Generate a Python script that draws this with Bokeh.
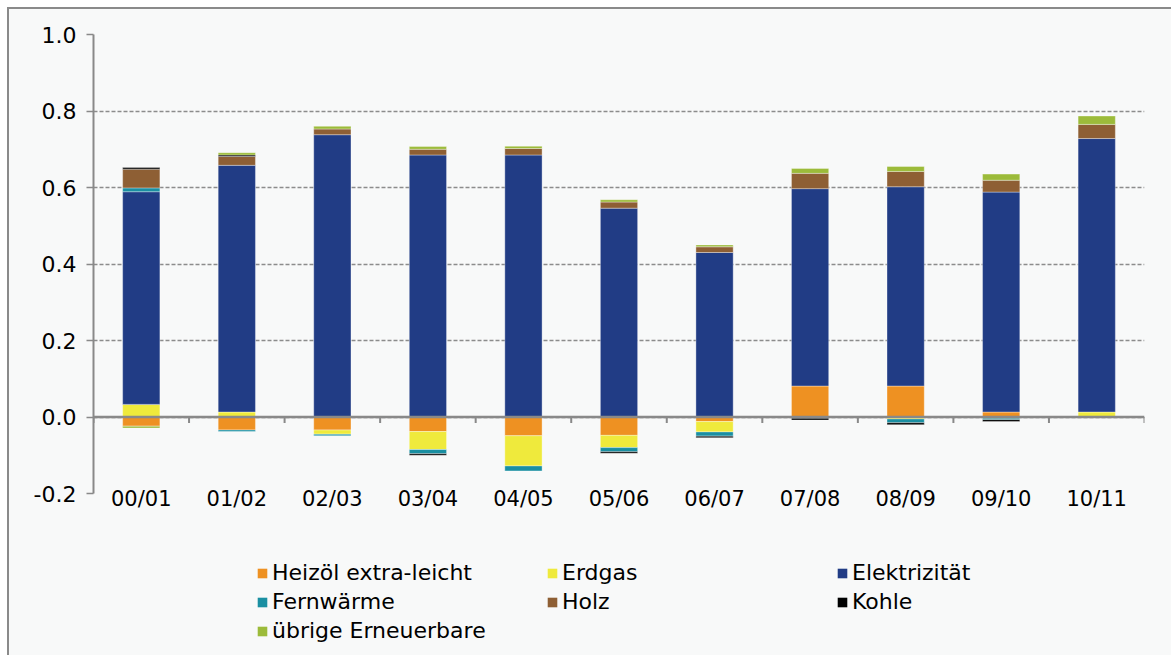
import numpy as np
from bokeh.plotting import figure
from bokeh.layouts import column
from bokeh.models import (ColumnDataSource, FactorRange, Range1d, Span, Legend,
                          LegendItem, FixedTicker, NumeralTickFormatter)
from bokeh.embed import file_html
from bokeh.resources import INLINE

# Heating year periods
periods = ["00/01", "01/02", "02/03", "03/04", "04/05", "05/06",
           "06/07", "07/08", "08/09", "09/10", "10/11"]

# Contributions per energy carrier
heizoel = [-0.024, -0.034, -0.034, -0.038, -0.049, -0.048, -0.012, 0.081, 0.081, 0.013, 0.0]
erdgas = [0.033, 0.013, -0.011, -0.047, -0.079, -0.032, -0.027, 0.0, -0.005, -0.003, 0.013]
elektrizitaet = [0.556, 0.645, 0.738, 0.685, 0.685, 0.546, 0.430, 0.516, 0.521, 0.575, 0.715]
fernwaerme = [0.010, -0.004, -0.004, -0.011, -0.013, -0.011, -0.011, -0.003, -0.010, -0.004, 0.0]
holz = [0.049, 0.023, 0.015, 0.015, 0.017, 0.016, 0.015, 0.040, 0.040, 0.031, 0.037]
kohle = [0.004, 0.004, 0.0, -0.004, 0.0, -0.004, -0.004, -0.005, -0.005, -0.005, 0.0]
uebrige = [-0.005, 0.006, 0.007, 0.007, 0.006, 0.006, 0.005, 0.013, 0.013, 0.016, 0.022]

y_ticks = [-0.2, 0.0, 0.2, 0.4, 0.6, 0.8, 1.0]

series = [
    ("Heizöl extra-leicht", heizoel, "#EE9122"),
    ("Erdgas", erdgas, "#EFEA3C"),
    ("Elektrizität", elektrizitaet, "#213C85"),
    ("Fernwärme", fernwaerme, "#1A8FA2"),
    ("Holz", holz, "#8E5F34"),
    ("Kohle", kohle, "#000000"),
    ("übrige Erneuerbare", uebrige, "#9CBB3A"),
]

FONT = "DejaVu Sans"
GREY = "#898989"
BG = "#f8f9f9"
W = 1162

p = figure(
    x_range=FactorRange(*periods),
    y_range=Range1d(-0.2, 1.0),
    width=W, height=511,
    min_border_left=84, min_border_right=27,
    min_border_top=25, min_border_bottom=27,
    output_backend="svg", toolbar_location=None,
    background_fill_color=BG, border_fill_color=BG,
)
p.outline_line_color = None

# stacked bars: positive values stack upwards, negative values downwards
n = len(periods)
pos_base = np.zeros(n)
neg_base = np.zeros(n)
for name, vals, color in series:
    v = np.asarray(vals, dtype=float)
    bottom = np.where(v >= 0, pos_base, neg_base)
    top = bottom + v
    pos_base = np.where(v > 0, top, pos_base)
    neg_base = np.where(v < 0, top, neg_base)
    keep = v != 0
    src = ColumnDataSource(dict(
        x=[c for c, k in zip(periods, keep) if k],
        bottom=bottom[keep], top=top[keep],
    ))
    p.vbar(x="x", bottom="bottom", top="top", width=0.39, source=src,
           fill_color=color, line_color="white", line_alpha=0.35, line_width=1)

# grid and zero line
p.xgrid.grid_line_color = None
p.ygrid.ticker = FixedTicker(ticks=y_ticks)
p.ygrid.grid_line_color = "#8c8c8c"
p.ygrid.grid_line_dash = "4 2"
p.ygrid.grid_line_width = 1.3
p.add_layout(Span(location=0, dimension="width", line_color=GREY, line_width=2.5))

# tick marks between categories on the zero line
bounds = list(range(n + 1))
tick_len = 0.016
p.segment(x0=bounds, y0=[0] * (n + 1), x1=bounds, y1=[-tick_len] * (n + 1),
          line_color=GREY, line_width=2)

# y axis
yax = p.yaxis[0]
yax.ticker = FixedTicker(ticks=y_ticks)
yax.formatter = NumeralTickFormatter(format="0.0")
yax.axis_line_color = GREY
yax.axis_line_width = 2
yax.major_tick_line_color = GREY
yax.major_tick_line_width = 1.5
yax.major_tick_out = 7
yax.major_tick_in = 0
yax.minor_tick_line_color = None
yax.major_label_standoff = 10
yax.major_label_text_font = FONT
yax.major_label_text_font_size = "22px"
yax.major_label_text_color = "#000000"

# x axis: labels only, under the plot area
xax = p.xaxis[0]
xax.axis_line_color = None
xax.major_tick_line_color = None
xax.minor_tick_line_color = None
xax.major_tick_out = 0
xax.major_tick_in = 0
xax.major_label_standoff = -7
xax.major_label_text_font = FONT
xax.major_label_text_font_size = "21px"
xax.major_label_text_color = "#000000"

# legend panel underneath the chart (swatches are zero-height bars)
lg = figure(
    width=W, height=135,
    x_range=Range1d(0, 1), y_range=Range1d(0, 1),
    min_border=0, output_backend="svg", toolbar_location=None,
    background_fill_color=BG, border_fill_color=BG,
)
lg.axis.visible = False
lg.grid.visible = False
lg.outline_line_color = None
items = []
for name, vals, color in series:
    swatch = lg.vbar(x=[0.0], bottom=[0.0], top=[0.0], width=0.01,
                     fill_color=color, line_color=None)
    items.append(LegendItem(label=name, renderers=[swatch]))

legend = Legend(
    items=items, ncols=3, orientation="horizontal",
    location=(163, 10),
    glyph_width=12, glyph_height=12, label_standoff=4,
    label_width=274, label_height=29, spacing=0,
    padding=0, margin=0,
    label_text_font=FONT, label_text_font_size="22px", label_text_color="#000000",
    background_fill_alpha=0, border_line_color=None,
)
lg.add_layout(legend, "center")

page = column(p, lg, spacing=0)
page.styles = {
    "margin-left": "7px", "margin-top": "7px",
    "border-left": "2px solid #8a8a8a", "border-top": "2px solid #8a8a8a",
    "background-color": BG,
}

open("out.html", "w").write(file_html(page, INLINE))
